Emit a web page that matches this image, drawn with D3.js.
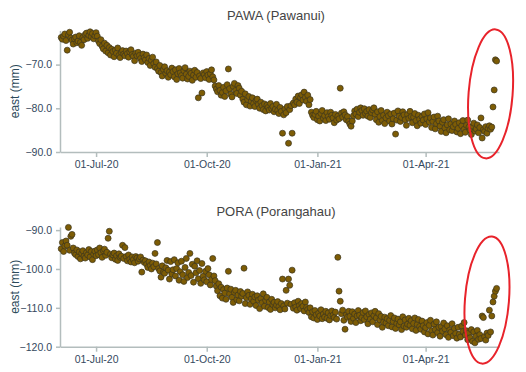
<!DOCTYPE html>
<html>
<head>
<meta charset="utf-8">
<script src="https://cdn.jsdelivr.net/npm/d3@7"></script>
<style>
  body { margin: 0; background: #fff; }
  svg { font-family: "Liberation Sans", Arial, sans-serif; display: block; }
  .axis path, .axis line { stroke: #b3bdbd; stroke-width: 1.5; }
  .axis text { fill: #34495e; font-size: 10.5px; }
</style>
</head>
<body>
<svg id="chart" width="526" height="372"></svg>
<script>
// daily east positions, one value per day starting at firstDay
const firstDay = "2020-06-02";
const xRange = ["2020-06-01", "2021-06-01"];
const xTicks = ["2020-07-01", "2020-10-01", "2021-01-01", "2021-04-01"];

const pawaTitle = "PAWA (Pawanui)";
const pawaEast = [
  -63.8, -64.2, -63.5, -63.0, -64.5, -66.7, -63.2, -62.6, -63.9, -64.4,
  -65.3, -64.1, -63.7, -65.0, -64.6, -63.4, -64.9, -65.6, -63.8, -64.3,
  -63.1, -62.8, -64.0, -63.3, -62.5, -63.6, -62.9, -64.1, -63.4, -62.7,
  -63.5, -64.6, -65.2, -64.3, -65.8, -66.4, -65.1, -66.9, -65.6, -67.3,
  -66.1, -67.8, -66.5, -67.0, -68.2, -66.7, -67.4, -66.2, -67.9, -68.4,
  -67.2, -66.8, -67.6, -68.0, -66.9, -67.5, -68.3, -67.1, -66.6, -67.7,
  -68.1, -69.1, -67.4, -68.0, -67.2, -67.9, -68.6, -69.3, -67.6, -68.4,
  -68.9, -67.8, -69.5, -68.6, -70.2, -69.0, -68.3, -69.8, -70.6, -69.4,
  -70.9, -71.5, -70.2, -71.8, -72.6, -71.1, -70.5, -72.0, -71.4, -72.9,
  -71.7, -72.3, -70.8, -71.6, -72.8, -71.2, -73.4, -72.1, -70.9, -71.9,
  -72.5, -73.1, -71.4, -70.7, -72.2, -73.3, -72.7, -71.5, -72.0, -73.6,
  -72.4, -71.3, -72.9, -71.8, -77.6, -72.6, -73.2, -76.5, -71.9, -72.3,
  -73.0, -71.6, -72.4, -73.4, -72.1, -71.2, -72.8, -73.5, -74.9, -75.6,
  -76.2, -74.8, -75.9, -77.0, -76.4, -75.2, -77.3, -76.0, -74.6, -71.0,
  -75.5, -76.8, -77.4, -75.0, -74.3, -75.9, -76.6, -74.8, -75.4, -77.0,
  -76.1, -77.9, -78.6, -76.7, -79.2, -78.0, -77.3, -79.5, -78.4, -77.6,
  -78.9, -79.6, -78.2, -77.9, -79.1, -80.0, -78.6, -79.4, -80.3, -79.0,
  -80.6, -79.3, -79.8, -80.4, -78.9, -80.1, -79.6, -80.8, -80.2, -79.1,
  -80.5, -81.2, -79.8, -80.7, -85.7, -81.5, -80.2, -81.0, -79.6, -88.0,
  -80.3, -79.4, -85.7, -78.8, -79.2, -77.9, -78.6, -77.2, -78.9, -77.6,
  -76.9, -78.1, -76.3, -77.5, -78.4, -77.0, -79.2, -78.0, -80.9, -81.6,
  -82.1, -81.4, -80.7, -82.6, -81.8, -82.9, -81.2, -80.5, -82.3, -81.7,
  -82.8, -81.0, -81.9, -82.5, -80.9, -81.6, -82.2, -83.3, -81.4, -82.7,
  -81.8, -82.4, -75.4, -81.1, -82.0, -80.8, -81.5, -82.6, -81.9, -83.0,
  -83.6, -84.1, -82.9, -81.7, -80.6, -81.3, -80.2, -81.9, -80.9, -79.9,
  -80.5, -81.6, -80.1, -81.2, -80.7, -81.8, -80.3, -82.1, -81.0, -80.4,
  -79.9, -81.4, -82.6, -80.8, -83.2, -81.9, -80.5, -82.8, -81.6, -83.5,
  -82.2, -80.9, -81.7, -82.9, -81.3, -83.6, -82.4, -81.1, -85.9, -82.7,
  -80.6, -81.8, -83.0, -82.1, -80.8, -81.5, -82.6, -83.9, -81.4, -82.3,
  -80.7, -81.9, -83.3, -82.0, -81.2, -82.8, -84.0, -81.6, -82.5, -83.4,
  -81.9, -82.7, -81.3, -83.7, -82.4, -81.0, -83.1, -82.2, -84.4, -83.0,
  -82.0, -84.7, -83.5, -81.8, -82.9, -84.1, -85.3, -83.2, -82.6, -84.5,
  -85.6, -83.8, -82.4, -84.9, -83.6, -85.1, -84.2, -82.9, -83.7, -85.4,
  -84.6, -83.3, -85.8, -84.0, -82.8, -84.8, -85.5, -83.9, -82.7, -84.3,
  -85.0, -86.0, -84.1, -83.4, -85.2, -84.7, -83.8, -85.6, -84.4, -82.2,
  -86.8, -84.9, -85.3, -84.2, -85.7, -84.6, -84.0, -84.8, -84.3, -79.7,
  -75.8, -68.9, -69.2
];
const pawaDomain = [-90, -62.2];
const pawaTicks = [-90, -80, -70];

const poraTitle = "PORA (Porangahau)";
const poraEast = [
  -94.8, -93.2, -95.5, -94.1, -92.8, -93.9, -89.3, -95.2, -91.6, -91.1,
  -94.6, -95.9, -96.3, -95.1, -96.8, -95.6, -97.4, -96.0, -95.3, -96.7,
  -97.2, -95.8, -96.4, -95.0, -96.9, -95.5, -97.6, -96.2, -95.4, -96.6,
  -95.1, -96.3, -94.6, -95.8, -97.0, -95.3, -94.9, -96.5, -95.7, -92.1,
  -90.3, -96.2, -97.1, -96.4, -95.9, -97.5, -96.6, -97.8, -96.1, -97.0,
  -96.7, -93.9, -97.3, -94.5, -96.8, -97.9, -96.4, -97.5, -98.2, -96.9,
  -97.6, -98.4, -96.8, -97.2, -98.0, -97.4, -96.9, -100.8, -97.7, -98.3,
  -97.9, -98.8, -99.6, -98.2, -99.1, -100.0, -98.5, -99.4, -96.0, -98.7,
  -93.2, -99.9, -100.5, -102.1, -99.2, -100.8, -101.1, -99.7, -97.8, -100.3,
  -102.6, -98.1, -101.3, -100.2, -97.6, -101.8, -99.9, -98.4, -102.9, -100.7,
  -98.0, -101.5, -103.2, -99.6, -97.3, -102.2, -100.9, -96.0, -101.7, -98.8,
  -103.4, -99.3, -101.0, -97.9, -102.5, -100.4, -103.7, -98.6, -101.9, -102.8,
  -100.6, -103.3, -99.9, -101.5, -104.1, -102.7, -97.3, -101.8, -103.0, -104.4,
  -105.6, -103.8, -106.9, -104.7, -107.5, -105.3, -106.2, -107.8, -104.9, -100.6,
  -106.4, -105.2, -107.3, -108.6, -106.0, -105.5, -107.9, -106.7, -108.2, -105.8,
  -107.0, -106.3, -99.8, -108.9, -107.4, -105.9, -106.8, -109.1, -107.7, -106.5,
  -108.3, -107.2, -109.4, -106.9, -108.0, -110.2, -107.6, -108.7, -106.4, -109.6,
  -108.1, -107.3, -109.9, -108.5, -110.4, -107.8, -109.2, -108.6, -110.0, -109.3,
  -108.4, -109.7, -110.5, -108.9, -102.6, -109.5, -110.3, -105.5, -108.8, -102.6,
  -104.2, -109.1, -100.3, -110.1, -108.7, -109.8, -110.6, -108.3, -109.4, -110.2,
  -108.9, -109.6, -110.8, -108.5, -109.9, -110.4, -111.2, -110.0, -112.3, -111.0,
  -112.6, -110.7, -111.8, -113.0, -111.4, -112.1, -110.5, -112.8, -111.6, -112.4,
  -110.9, -112.7, -111.3, -113.1, -112.0, -110.8, -111.9, -112.5, -111.1, -112.9,
  -97.0, -105.7, -108.3, -111.5, -110.6, -113.2, -115.5, -111.8, -112.4, -110.9,
  -112.2, -113.5, -111.0, -112.7, -111.6, -113.8, -112.1, -110.7, -111.9, -113.3,
  -112.5, -111.2, -113.0, -110.8, -112.3, -114.1, -111.7, -112.9, -111.3, -113.6,
  -112.0, -110.9, -112.6, -114.3, -111.5, -113.1, -112.2, -115.0, -113.7, -112.4,
  -113.9, -112.8, -114.6, -113.2, -112.0, -114.9, -113.5, -112.6, -115.3, -114.0,
  -112.9, -114.4, -113.6, -115.6, -112.3, -114.7, -113.1, -115.0, -114.2, -112.7,
  -114.5, -113.3, -115.4, -114.0, -112.6, -115.8, -114.3, -113.0, -114.8, -115.5,
  -113.4, -114.6, -116.2, -115.1, -113.8, -116.7, -114.5, -113.2, -115.9, -117.0,
  -114.2, -115.6, -113.6, -116.4, -115.0, -117.3, -114.8, -116.0, -113.9, -115.4,
  -116.9, -114.6, -117.6, -115.7, -116.3, -114.1, -117.2, -115.3, -116.6, -117.8,
  -115.0, -116.8, -117.5, -114.7, -116.1, -113.8, -117.0, -115.9, -118.2, -116.4,
  -117.7, -115.6, -118.6, -116.2, -119.0, -117.3, -115.8, -118.1, -116.9, -117.9,
  -112.1, -112.5, -117.4, -118.3, -116.5, -117.1, -110.6, -116.2, -112.1, -108.5,
  -107.0, -105.7, -105.0
];
const poraDomain = [-120, -89.2];
const poraTicks = [-120, -110, -100, -90];

// highlighted last days (centre date, centre value, half-height in mm)
const pawaMark = ["2021-05-25", -76.7, 14.8];
const poraMark = ["2021-05-22", -108.0, 16.4];

const parseDay = d3.utcParse("%Y-%m-%d");
const fmtDay = d3.utcFormat("%d-%b-%y");

const svg = d3.select("#chart");
const margin = { left: 60, right: 27 };
const width = 526 - margin.left - margin.right;

const x = d3.scaleUtc()
  .domain(xRange.map(parseDay))
  .range([0, width]);

const panels = [
  { title: pawaTitle, values: pawaEast, domain: pawaDomain, ticks: pawaTicks, mark: pawaMark, top: 30.5, bottom: 152, titleY: 20 },
  { title: poraTitle, values: poraEast, domain: poraDomain, ticks: poraTicks, mark: poraMark, top: 227, bottom: 346.7, titleY: 216 }
];

panels.forEach(function (p) {
  const y = d3.scaleLinear().domain(p.domain).range([p.bottom - p.top, 0]);
  const g = svg.append("g")
    .attr("transform", `translate(${margin.left},${p.top})`);

  svg.append("text")
    .attr("x", 276)
    .attr("y", p.titleY)
    .attr("text-anchor", "middle")
    .style("font-size", "13px")
    .style("fill", "#444")
    .text(p.title);

  g.append("g")
    .attr("class", "axis")
    .attr("transform", `translate(0,${p.bottom - p.top})`)
    .call(d3.axisBottom(x)
      .tickValues(xTicks.map(parseDay))
      .tickFormat(fmtDay)
      .tickSize(5)
      .tickPadding(4)
      .tickSizeOuter(0));

  g.append("g")
    .attr("class", "axis")
    .call(d3.axisLeft(y)
      .tickValues(p.ticks)
      .tickFormat(d3.format(".1f"))
      .tickSize(4)
      .tickPadding(4)
      .tickSizeOuter(0));

  svg.append("text")
    .attr("transform", `translate(15,${(p.top + p.bottom) / 2}) rotate(-90)`)
    .attr("text-anchor", "middle")
    .attr("dy", "0.35em")
    .style("font-size", "12px")
    .style("fill", "#2c4a5a")
    .text("east (mm)");

  const start = parseDay(firstDay);
  g.selectAll(".dot")
    .data(p.values)
    .enter().append("circle")
    .attr("class", "dot")
    .attr("cx", function (d, i) { return x(d3.utcDay.offset(start, i)); })
    .attr("cy", function (d) { return y(d); })
    .attr("r", 3.0)
    .style("fill", "#7d5c05")
    .style("stroke", "#3b3520")
    .style("stroke-width", 0.7);

  // red ring round the last few days
  const cx = x(parseDay(p.mark[0]));
  const cy = y(p.mark[1]);
  const ry = y(p.mark[1] - p.mark[2]) - cy;
  g.append("ellipse")
    .attr("transform", `translate(${cx},${cy}) rotate(4.5)`)
    .attr("rx", 22)
    .attr("ry", ry)
    .style("fill", "none")
    .style("stroke", "#e8232b")
    .style("stroke-width", 2);
});
</script>
</body>
</html>
